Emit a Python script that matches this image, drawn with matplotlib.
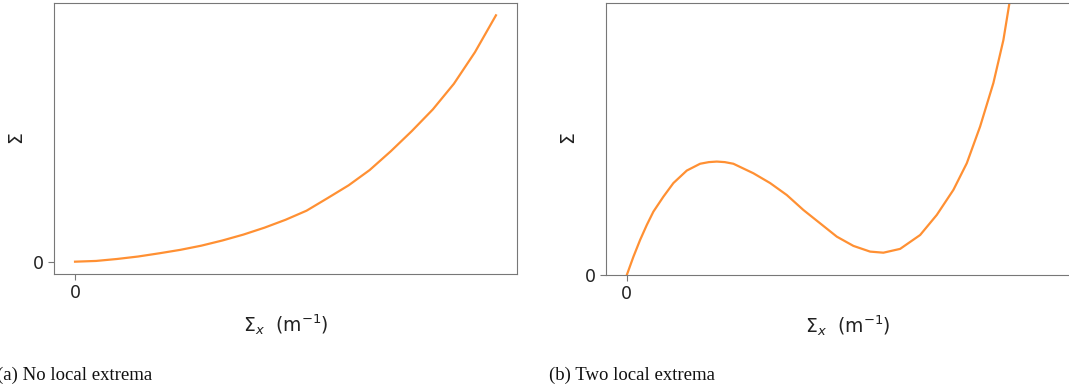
import matplotlib
matplotlib.use("Agg")
import matplotlib.pyplot as plt

# (a) no local extrema: values (arbitrary units)
xa = [0.0, 0.05, 0.10, 0.15, 0.20, 0.25, 0.30, 0.35, 0.40, 0.45, 0.50,
      0.55, 0.60, 0.65, 0.70, 0.75, 0.80, 0.85, 0.90, 0.95, 1.0]
ya = [0.0, 0.003, 0.011, 0.021, 0.034, 0.048, 0.065, 0.086, 0.110, 0.138,
      0.170, 0.207, 0.258, 0.310, 0.372, 0.448, 0.530, 0.618, 0.722,
      0.850, 1.0]

# (b) two local extrema
xb = [0.0, 0.0165, 0.0333, 0.05, 0.0665, 0.0915, 0.1165, 0.15, 0.1833,
      0.205, 0.225, 0.245, 0.2665, 0.3165, 0.3583, 0.40, 0.4415, 0.4833,
      0.525, 0.5665, 0.6083, 0.6415, 0.6833, 0.7333, 0.775, 0.8165, 0.85,
      0.8833, 0.9165, 0.9415, 0.9565, 0.97]
yb = [0.0, 0.067, 0.129, 0.184, 0.233, 0.288, 0.338, 0.384, 0.409,
      0.415, 0.417, 0.415, 0.409, 0.374, 0.338, 0.294, 0.239, 0.190,
      0.141, 0.107, 0.086, 0.082, 0.096, 0.147, 0.221, 0.313, 0.411,
      0.546, 0.706, 0.864, 0.999, 1.15]

captions = ["(a) No local extrema", "(b) Two local extrema"]
xlabel = r"$\Sigma_x$  (m$^{-1}$)"
ylabel = r"$\Sigma$"

line_color = "#ff9033"
spine_color = "#777777"
text_color = "#222222"

W, H = 1069, 387
fig = plt.figure(figsize=(W / 100, H / 100), dpi=100)


def px_axes(x0, y0, x1, y1):
    # pixel box (top-left origin) -> figure fraction
    return fig.add_axes([x0 / W, 1 - y1 / H, (x1 - x0) / W, (y1 - y0) / H])


ax1 = px_axes(54, 3, 517, 274)
ax2 = px_axes(606, 3, 1090, 275)

ax1.plot(xa, ya, color=line_color, lw=1.6, solid_joinstyle="round")
ax2.plot(xb, yb, color=line_color, lw=1.6, solid_joinstyle="round")
ax2.set_xlim(-0.052, 1.158)
ax2.set_ylim(0, 1)

for ax in (ax1, ax2):
    ax.set_xticks([0])
    ax.set_yticks([0])
    ax.tick_params(colors=spine_color, labelcolor=text_color, labelsize=12.5,
                   length=4)
    for s in ax.spines.values():
        s.set_color(spine_color)
    ax.set_xlabel(xlabel, fontsize=13.5, color=text_color, labelpad=7)
    ax.set_ylabel(ylabel, fontsize=13.5, color=text_color, labelpad=4)

fig.text(-3 / W, 1 - 380 / H, captions[0], family="Liberation Serif",
         fontsize=13.5, color="#111111", ha="left", va="baseline")
fig.text(549 / W, 1 - 380 / H, captions[1], family="Liberation Serif",
         fontsize=13.5, color="#111111", ha="left", va="baseline")

fig.savefig("out.png", dpi=100)
